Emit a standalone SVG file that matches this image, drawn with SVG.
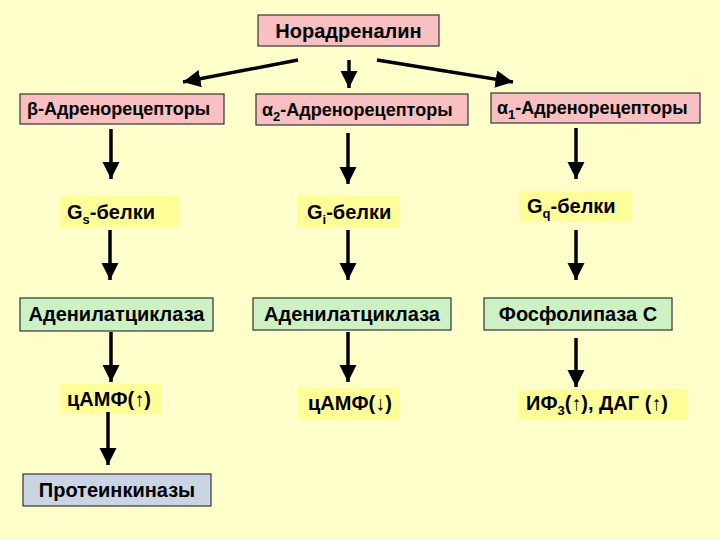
<svg xmlns="http://www.w3.org/2000/svg" width="720" height="540" viewBox="0 0 720 540">
<defs>
<marker id="ah" viewBox="0 0 10 10" refX="10" refY="5" markerWidth="5" markerHeight="5" orient="auto" markerUnits="strokeWidth">
<path d="M0,0 L10,5 L0,10 Z" fill="#000"/>
</marker>
<style>
text{font-family:"Liberation Sans",Arial,sans-serif;font-weight:bold;fill:#000}
.pink{fill:#F8C0C0;stroke:#333;stroke-width:1.2}
.green{fill:#CCF2C4;stroke:#333;stroke-width:1.2}
.blue{fill:#C9D5E3;stroke:#333;stroke-width:1.2}
.yel{fill:#FFFF99;stroke:none}
.c line{stroke:#000;stroke-width:3.5;marker-end:url(#ah)}
.t{font-size:20px}
.r{font-size:18px}
.s{font-size:13px}
</style>
</defs>
<rect x="0" y="0" width="720" height="540" fill="#FFFFCC"/>
<g id="noradrenalin"><rect class="pink" x="258" y="15" width="181" height="31"/><text class="t" x="348.5" y="38" text-anchor="middle">Норадреналин</text></g>
<g id="beta"><rect class="pink" x="20" y="94" width="204" height="30"/><text class="r" x="27" y="115">β-Адренорецепторы</text></g>
<g id="alpha2"><rect class="pink" x="256" y="94" width="212" height="31"/><text class="r" x="262" y="116">α<tspan class="s" dy="5">2</tspan><tspan dy="-5">-Адренорецепторы</tspan></text></g>
<g id="alpha1"><rect class="pink" x="491" y="93" width="209" height="30"/><text class="r" x="497" y="114">α<tspan class="s" dy="5">1</tspan><tspan dy="-5">-Адренорецепторы</tspan></text></g>
<g id="gs"><rect class="yel" x="60" y="196" width="120" height="31"/><text class="t" x="67" y="219">G<tspan class="s" dy="5">s</tspan><tspan dy="-5">-белки</tspan></text></g>
<g id="gi"><rect class="yel" x="297" y="196" width="103" height="32"/><text class="t" x="307" y="219">G<tspan class="s" dy="5">i</tspan><tspan dy="-5">-белки</tspan></text></g>
<g id="gq"><rect class="yel" x="519" y="191" width="113" height="31"/><text class="t" x="527" y="213">G<tspan class="s" dy="5">q</tspan><tspan dy="-5">-белки</tspan></text></g>
<g id="ac1"><rect class="green" x="20" y="298" width="193" height="33"/><text class="t" x="116.5" y="321" text-anchor="middle">Аденилатциклаза</text></g>
<g id="ac2"><rect class="green" x="253" y="298" width="198" height="32"/><text class="t" x="352" y="321" text-anchor="middle">Аденилатциклаза</text></g>
<g id="plc"><rect class="green" x="484" y="298" width="188" height="32"/><text class="t" x="578" y="321" text-anchor="middle">Фосфолипаза С</text></g>
<g id="camp1"><rect class="yel" x="60" y="384" width="101" height="30"/><text class="t" x="67" y="406">цАМФ(↑)</text></g>
<g id="camp2"><rect class="yel" x="298" y="388" width="101" height="32"/><text class="t" x="308" y="410">цАМФ(↓)</text></g>
<g id="ip3"><rect class="yel" x="518" y="389" width="170" height="31"/><text class="t" x="526" y="410">ИФ<tspan class="s" dy="5">3</tspan><tspan dy="-5">(↑), ДАГ (↑)</tspan></text></g>
<g id="pk"><rect class="blue" x="23" y="474" width="188" height="32"/><text class="t" x="117" y="497" text-anchor="middle">Протеинкиназы</text></g>
<g id="connectors" class="c">
<line x1="298" y1="60" x2="183" y2="82"/>
<line x1="349" y1="60" x2="349" y2="88"/>
<line x1="377" y1="60" x2="513" y2="82"/>
<line x1="111" y1="129" x2="111" y2="179"/>
<line x1="348" y1="133" x2="348" y2="184"/>
<line x1="576" y1="128" x2="576" y2="179"/>
<line x1="110" y1="230" x2="110" y2="280"/>
<line x1="348" y1="230" x2="348" y2="280"/>
<line x1="576" y1="230" x2="576" y2="280"/>
<line x1="111" y1="332" x2="111" y2="382"/>
<line x1="348" y1="332" x2="348" y2="382"/>
<line x1="576" y1="338" x2="576" y2="387"/>
<line x1="108" y1="412" x2="108" y2="465"/>
</g>
</svg>
